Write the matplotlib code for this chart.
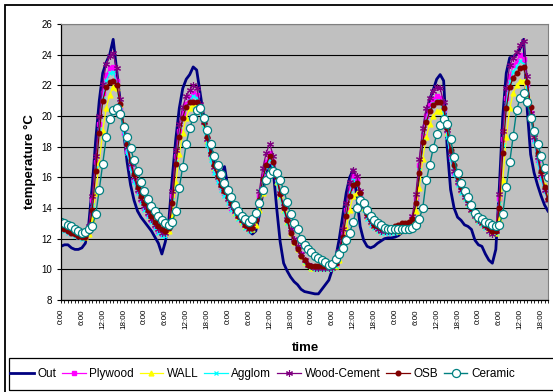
import matplotlib
matplotlib.use("Agg")
import matplotlib.pyplot as plt
from matplotlib.patches import Rectangle
import numpy as np

plt.rcParams['font.family'] = ['Liberation Sans', 'DejaVu Sans']

# hourly readings, 0:00 of day 1 to 20:00 of day 6
hours = np.arange(141)

out = [11.5, 11.6, 11.6, 11.4, 11.3, 11.3, 11.4, 11.7, 13.0, 15.5,
       18.5, 21.0, 22.8, 23.5, 24.0, 25.0, 23.0, 21.0, 19.0, 17.0,
       15.5, 14.5, 13.8, 13.4, 13.1, 12.8, 12.5, 12.1, 11.7, 11.0,
       11.8, 13.2, 16.0, 18.5, 20.5, 21.8, 22.4, 22.7, 23.2, 23.0,
       21.5, 20.0, 18.8, 17.8, 17.0, 16.4, 16.0, 16.7, 15.3, 14.6,
       14.1, 13.8, 13.4, 13.0, 12.5, 12.3, 12.5, 13.5, 15.0, 16.2,
       16.8, 16.5, 14.0, 11.8, 10.4, 9.9, 9.5, 9.2, 9.0, 8.7,
       8.55, 8.5, 8.45, 8.4, 8.4, 8.7, 9.0, 9.3, 10.0, 10.8,
       12.0, 13.5, 15.0, 16.0, 16.5, 14.8, 12.8, 11.9, 11.5, 11.4,
       11.5, 11.7, 11.85, 12.0, 12.05, 12.05, 12.1, 12.2, 12.4, 12.6,
       12.9, 13.3, 14.0, 16.3, 18.8, 20.2, 21.1, 21.7, 22.4, 22.7,
       22.3, 18.0, 15.2, 14.0, 13.4, 13.2, 12.9, 12.8, 12.6, 11.9,
       11.6, 11.5, 11.0, 10.6, 10.4, 11.3, 15.3, 20.0, 22.8, 23.8,
       23.9, 24.0, 24.4, 25.0, 20.5, 17.5, 16.3, 15.5, 14.8, 14.2,
       13.8]

plywood = [12.7, 12.6, 12.5, 12.4, 12.3, 12.2, 12.1, 12.2, 12.7, 14.5,
           17.0, 19.5, 21.5, 22.7, 23.1, 23.2, 22.3, 20.5, 18.9, 17.7,
           16.7, 15.8, 15.1, 14.5, 14.0, 13.6, 13.2, 12.8, 12.5, 12.3,
           12.3, 12.8, 14.8, 17.4, 19.0, 20.2, 20.8, 21.2, 21.5, 21.4,
           20.5, 19.4, 18.3, 17.3, 16.5, 15.9, 15.4, 15.0, 14.5, 14.0,
           13.7, 13.4, 13.1, 12.8, 12.6, 12.7, 13.4, 14.8, 16.1, 17.0,
           17.6, 17.0, 15.9, 14.9, 14.0, 13.2, 12.5, 11.9, 11.4, 11.0,
           10.6, 10.3, 10.2, 10.1, 10.1, 10.1, 10.1, 10.1, 10.1, 10.3,
           11.0, 12.3, 13.9, 15.3, 16.1, 15.8, 14.9, 14.0, 13.4, 13.0,
           12.8, 12.6, 12.5, 12.5, 12.5, 12.5, 12.5, 12.6, 12.7, 12.8,
           13.0, 13.4, 14.6, 16.8, 18.7, 20.0, 20.7, 21.1, 21.3, 21.2,
           20.4, 18.8, 17.3, 16.3, 15.6, 15.1, 14.7, 14.3, 13.9, 13.5,
           13.2, 13.0, 12.8, 12.6, 12.4, 12.5, 14.6, 18.5, 21.2, 22.6,
           23.3, 23.6, 24.0, 23.7, 22.0, 20.2, 18.5, 17.1, 16.0, 15.2,
           14.6]

wall = [12.8, 12.7, 12.6, 12.5, 12.4, 12.3, 12.2, 12.1, 12.3, 13.3,
        15.0, 17.0, 19.0, 20.5, 21.4, 21.9, 21.8, 20.8, 19.4, 18.2,
        17.1, 16.2, 15.4, 14.8, 14.3, 13.8, 13.4, 13.0, 12.7, 12.5,
        12.4, 12.5, 13.5, 15.6, 17.5, 18.9, 19.9, 20.5, 20.8, 20.9,
        20.4, 19.5, 18.4, 17.4, 16.6, 16.0, 15.5, 15.1, 14.6, 14.1,
        13.7, 13.4, 13.1, 12.8, 12.6, 12.6, 12.9, 13.9, 15.0, 15.9,
        16.5, 16.4, 15.7, 14.8, 13.9, 13.1, 12.4, 11.8, 11.3, 10.9,
        10.5, 10.3, 10.1, 10.1, 10.1, 10.1, 10.1, 10.1, 10.1, 10.2,
        10.6, 11.4, 12.7, 13.9, 14.8, 15.0, 14.6, 14.0, 13.5, 13.1,
        12.8, 12.6, 12.5, 12.5, 12.5, 12.5, 12.5, 12.5, 12.6, 12.7,
        12.8, 13.1, 13.8, 15.3, 17.2, 18.6, 19.5, 20.0, 20.3, 20.3,
        19.9, 18.9, 17.6, 16.6, 15.8, 15.2, 14.7, 14.3, 13.9, 13.5,
        13.2, 13.0, 12.8, 12.6, 12.4, 12.4, 13.3, 15.8, 18.6, 20.5,
        21.5, 22.0, 22.3, 22.3, 21.4, 20.1, 18.8, 17.5, 16.4, 15.5,
        14.7]

agglom = [12.6, 12.5, 12.4, 12.3, 12.2, 12.1, 12.0, 12.1, 12.6, 14.2,
          16.6, 19.1, 21.1, 22.3, 22.8, 22.9, 22.1, 20.4, 18.8, 17.6,
          16.6, 15.7, 15.0, 14.4, 13.9, 13.5, 13.1, 12.7, 12.4, 12.2,
          12.2, 12.7, 14.5, 17.0, 18.7, 19.9, 20.6, 21.0, 21.3, 21.2,
          20.3, 19.2, 18.1, 17.1, 16.3, 15.7, 15.2, 14.8, 14.3, 13.9,
          13.6, 13.3, 13.0, 12.7, 12.5, 12.6, 13.2, 14.5, 15.8, 16.7,
          17.2, 16.7, 15.7, 14.7, 13.8, 13.0, 12.4, 11.8, 11.3, 10.9,
          10.5, 10.2, 10.1, 10.0, 10.0, 10.0, 10.0, 10.0, 10.0, 10.2,
          10.9, 12.1, 13.6, 15.0, 15.8, 15.6, 14.7, 13.9, 13.3, 12.9,
          12.7, 12.5, 12.4, 12.4, 12.4, 12.4, 12.4, 12.5, 12.6, 12.7,
          12.9, 13.3, 14.4, 16.5, 18.4, 19.7, 20.4, 20.8, 21.0, 21.0,
          20.2, 18.6, 17.2, 16.2, 15.5, 15.0, 14.6, 14.2, 13.8, 13.4,
          13.1, 12.9, 12.7, 12.5, 12.3, 12.4, 14.3, 18.1, 20.8, 22.2,
          22.9, 23.2, 23.6, 23.4, 21.8, 20.0, 18.4, 17.0, 15.9, 15.1,
          14.5]

wood_cement = [12.8, 12.7, 12.6, 12.5, 12.4, 12.3, 12.2, 12.3, 12.8, 14.8,
               17.4, 20.0, 22.1, 23.4, 23.9, 24.1, 23.1, 21.1, 19.3, 18.0,
               16.9, 16.0, 15.2, 14.6, 14.1, 13.7, 13.3, 12.9, 12.6, 12.4,
               12.4, 12.9, 15.1, 17.8, 19.5, 20.6, 21.3, 21.7, 22.0, 21.8,
               20.8, 19.6, 18.5, 17.5, 16.7, 16.0, 15.5, 15.1, 14.6, 14.1,
               13.8, 13.5, 13.2, 12.9, 12.6, 12.8, 13.6, 15.1, 16.6, 17.6,
               18.2, 17.4, 16.1, 15.0, 14.1, 13.3, 12.6, 12.0, 11.5, 11.0,
               10.6, 10.3, 10.2, 10.1, 10.1, 10.1, 10.1, 10.1, 10.1, 10.4,
               11.2, 12.6, 14.3, 15.7, 16.5, 16.1, 15.1, 14.1, 13.5, 13.1,
               12.8, 12.6, 12.5, 12.5, 12.5, 12.5, 12.5, 12.6, 12.7, 12.8,
               13.0, 13.5, 14.9, 17.2, 19.2, 20.5, 21.2, 21.6, 21.9, 21.8,
               20.9, 19.1, 17.5, 16.4, 15.7, 15.2, 14.7, 14.3, 13.9, 13.5,
               13.2, 13.0, 12.8, 12.5, 12.3, 12.5, 14.9, 19.0, 21.8, 23.3,
               23.8, 24.2, 24.6, 24.9, 22.6, 20.2, 18.6, 17.3, 16.2, 15.2,
               14.5]

osb = [12.8, 12.6, 12.5, 12.4, 12.3, 12.2, 12.1, 12.1, 12.5, 13.9,
       16.4, 18.9, 21.0, 21.9, 22.2, 22.3, 22.0, 20.8, 19.4, 18.2,
       17.1, 16.2, 15.4, 14.8, 14.3, 13.9, 13.5, 13.1, 12.8, 12.6,
       12.5, 12.7, 14.3, 16.9, 18.6, 19.9, 20.6, 20.9, 20.9, 20.9,
       20.6, 19.6, 18.6, 17.6, 16.8, 16.1, 15.5, 15.1, 14.7, 14.3,
       13.9, 13.5, 13.2, 12.9, 12.7, 12.7, 13.2, 14.5, 15.9, 16.8,
       17.4, 17.0, 16.0, 14.9, 14.0, 13.2, 12.4, 11.8, 11.3, 10.9,
       10.6, 10.3, 10.2, 10.2, 10.2, 10.2, 10.2, 10.2, 10.2, 10.4,
       11.0, 12.1, 13.5, 14.8, 15.5, 15.6, 15.0, 14.2, 13.6, 13.2,
       12.9, 12.8, 12.7, 12.7, 12.7, 12.7, 12.8, 12.9, 13.0, 13.0,
       13.1, 13.3, 14.3, 16.3, 18.3, 19.6, 20.3, 20.7, 20.9, 20.9,
       20.5, 19.2, 17.8, 16.8, 16.0, 15.4, 14.9, 14.5, 14.0, 13.6,
       13.3, 13.1, 12.9, 12.7, 12.5, 12.5, 14.0, 17.6, 20.5, 21.9,
       22.5, 22.8, 23.1, 23.2, 22.2, 20.6, 19.0, 17.6, 16.4, 15.4,
       14.6]

ceramic = [13.1, 13.0, 12.9, 12.8, 12.6, 12.5, 12.4, 12.45, 12.6, 12.8,
           13.6, 15.2, 16.9, 18.6, 19.8, 20.4, 20.5, 20.1, 19.3, 18.6,
           17.9, 17.1, 16.4, 15.7, 15.1, 14.6, 14.1, 13.8, 13.5, 13.2,
           13.0, 12.9, 13.1, 13.8, 15.3, 16.7, 18.2, 19.2, 19.9, 20.4,
           20.5, 19.9, 19.1, 18.2, 17.4, 16.8, 16.2, 15.6, 15.2, 14.7,
           14.2, 13.8, 13.5, 13.3, 13.1, 13.3, 13.7, 14.3, 15.2, 15.8,
           16.2, 16.4, 16.3, 15.8, 15.2, 14.4, 13.6, 13.0, 12.6, 12.0,
           11.6, 11.3, 11.1, 10.9, 10.75, 10.6, 10.5, 10.3, 10.35, 10.7,
           11.0, 11.4, 11.9, 12.4, 13.1, 14.0, 14.5, 14.3, 13.9, 13.5,
           13.2, 13.0, 12.9, 12.7, 12.6, 12.6, 12.6, 12.6, 12.6, 12.6,
           12.6, 12.7, 12.9, 13.3, 14.0, 15.8, 16.8, 17.9, 18.8, 19.4,
           19.8, 19.5, 18.5, 17.3, 16.3, 15.6, 15.1, 14.7, 14.2, 13.7,
           13.4, 13.3, 13.1, 13.0, 12.9, 12.8, 12.9, 13.6, 15.4, 17.0,
           18.7, 20.4, 21.2, 21.5, 20.9, 19.9, 19.0, 18.2, 17.4, 16.6,
           16.0]

tick_hours = np.arange(0, 141, 6)
tick_labels = ['0:00', '6:00', '12:00', '18:00'] * 6

W, H = 553, 392
fig = plt.figure(figsize=(W / 100, H / 100), dpi=100)
ax = fig.add_axes([61 / W, 1 - 300 / H, 487 / W, 276 / H])
ax.set_facecolor('#C0C0C0')

ax.plot(hours, out, color='#000080', lw=2.0, label='Out')
ax.plot(hours, plywood, color='#FF00FF', lw=0.9, marker='s', ms=3.2,
        mec='#FF00FF', label='Plywood')
ax.plot(hours, wall, color='#FFFF00', lw=0.9, marker='^', ms=3.5,
        mec='#FFFF00', label='WALL')
ax.plot(hours, agglom, color='#00FFFF', lw=0.9, marker='x', ms=3.5,
        mew=0.9, label='Agglom')
ax.plot(hours, wood_cement, color='#800080', lw=0.9, marker=(6, 2, 0),
        ms=5, mew=0.8, label='Wood-Cement')
ax.plot(hours, osb, color='#800000', lw=0.9, marker='o', ms=3.3,
        mec='#800000', label='OSB')
ax.plot(hours, ceramic, color='#008080', lw=1.0, marker='o', ms=5.8,
        mfc='white', mec='#008080', mew=0.9, label='Ceramic')

ax.set_xlim(0, 140)
ax.set_ylim(8, 26)
ax.set_yticks(np.arange(8, 27, 2))
ax.yaxis.grid(True, color='black', lw=0.8)
ax.set_axisbelow(True)
ax.tick_params(axis='y', labelsize=7, length=3, width=0.8, pad=3.5)

ax.set_xticks(tick_hours)
ax.set_xticklabels(tick_labels, rotation=90, fontsize=5.8)
ax.set_xticks(hours, minor=True)
ax.tick_params(axis='x', which='both', length=2.5, width=0.6, pad=4)

for side in ['top', 'right']:
    ax.spines[side].set_color('#808080')
for side in ['left', 'bottom']:
    ax.spines[side].set_color('black')
    ax.spines[side].set_linewidth(0.9)

ax.set_ylabel('temperature °C', fontsize=9.5, fontweight='bold', labelpad=4)
fig.text(306 / W, 1 - 348 / H, 'time', fontsize=9.5, fontweight='bold',
         ha='center', va='center')

# chart area and legend boxes (run off the right/bottom edges)
fig.add_artist(Rectangle((4.5 / W, -0.1), 1.2, 1.1 - 5 / H, fill=False,
                         ec='black', lw=1.3, transform=fig.transFigure))
fig.add_artist(Rectangle((8.5 / W, 1 - 390 / H), 1.2, 32 / H, fill=False,
                         ec='black', lw=0.9, transform=fig.transFigure))

handles, labels = ax.get_legend_handles_labels()
fig.legend(handles, labels, loc='center left',
           bbox_to_anchor=(10 / W, 1 - 374 / H), ncol=7, frameon=False,
           fontsize=8.5, handlelength=2.0, handletextpad=0.3,
           columnspacing=0.5, borderpad=0, borderaxespad=0)

fig.savefig('out.png', dpi=100)
